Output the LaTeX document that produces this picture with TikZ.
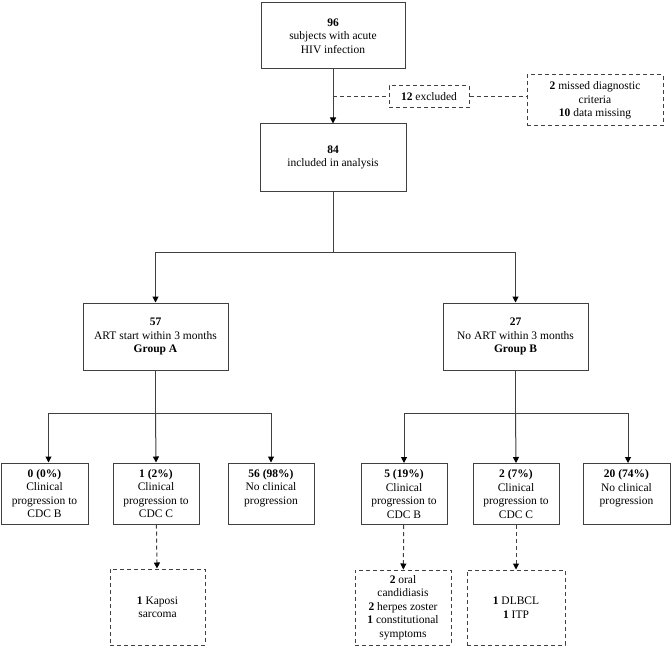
\documentclass[tikz,border=0pt]{standalone}
\usepackage{fontspec}
\setmainfont{Liberation Serif}
\usetikzlibrary{arrows.meta,positioning}

\begin{document}
\begin{tikzpicture}[x=1pt,y=-1pt,>={Triangle[length=6pt,width=6pt,color=black]},
 box/.style={draw=black!75,line width=1pt,align=center,inner sep=2pt,
 font=\fontsize{11.5}{13.4}\selectfont},
 dbox/.style={box,dash pattern=on 4pt off 3pt},
 wire/.style={draw=black!75,line width=1pt},
 dwire/.style={wire,dash pattern=on 4pt off 3pt}]
\useasboundingbox (0,0) rectangle (671,647);
\node[box,minimum width=144pt,minimum height=66pt] (subjects) at (333,36)
 {\textbf{96}\\subjects with acute\\HIV infection};
\node[dbox,minimum width=80pt,minimum height=22pt] (excluded) at (429,97)
 {\textbf{12} excluded};
\node[dbox,minimum width=136pt,minimum height=51pt] (reasons) at (595,100.5)
 {\textbf{2} missed diagnostic\\criteria\\\textbf{10} data missing};
\node[box,minimum width=146pt,minimum height=67pt] (included) at (333,157.5)
 {\textbf{84}\\included in analysis};
\node[box,minimum width=145pt,minimum height=67pt] (groupA) at (155.5,336.5)
 {\textbf{57}\\ART start within 3 months\\\textbf{Group A}};
\node[box,minimum width=145pt,minimum height=67pt] (groupB) at (515.5,336.5)
 {\textbf{27}\\No ART within 3 months\\\textbf{Group B}};
\node[box,minimum width=87pt,minimum height=61pt] (aB) at (44.5,493.5)
 {\textbf{0 (0\%)}\\Clinical\\progression to\\CDC B};
\node[box,minimum width=86pt,minimum height=61pt] (aC) at (156,493.5)
 {\textbf{1 (2\%)}\\Clinical\\progression to\\CDC C};
\node[box,minimum width=86pt,minimum height=61pt] (aNone) at (271,493.5)
 {\textbf{56 (98\%)}\\No clinical\\progression\\\mbox{}};
\node[box,minimum width=86pt,minimum height=61pt] (bB) at (404,494)
 {\textbf{5 (19\%)}\\Clinical\\progression to\\CDC B};
\node[box,minimum width=86pt,minimum height=61pt] (bC) at (516,494)
 {\textbf{2 (7\%)}\\Clinical\\progression to\\CDC C};
\node[box,minimum width=87pt,minimum height=61pt] (bNone) at (626.5,494)
 {\textbf{20 (74\%)}\\No clinical\\progression\\\mbox{}};
\node[dbox,minimum width=95pt,minimum height=76pt] (kaposi) at (157.5,607)
 {\textbf{1} Kaposi\\sarcoma};
\node[dbox,minimum width=96pt,minimum height=75pt] (events) at (403,607.5)
 {\textbf{2} oral\\candidiasis\\\textbf{2} herpes zoster\\\textbf{1} constitutional\\symptoms};
\node[dbox,minimum width=98pt,minimum height=75pt] (lymphoma) at (516,607.5)
 {\textbf{1} DLBCL\\\textbf{1} ITP};
\draw[wire,->] (subjects) -- (included);
\draw[dwire] (subjects.south |- excluded.west) -- (excluded.west);
\draw[dwire] (excluded.east) -- (excluded.east -| reasons.west);
\draw[wire] (included.south) -- ++(0,61) coordinate (split);
\draw[wire,->] (split) -| (groupA.north);
\draw[wire,->] (split) -| (groupB.north);
\draw[wire] (groupA.south) -- ++(0,43) coordinate (splitA);
\draw[wire,->] (splitA) -| ([xshift=4pt]aB.north);
\draw[wire,->] (splitA) -- (aC.north);
\draw[wire,->] (splitA) -| (aNone.north);
\draw[wire] (groupB.south) -- ++(0,43) coordinate (splitB);
\draw[wire,->] (splitB) -| (bB.north);
\draw[wire,->] (splitB) -- (bC.north);
\draw[wire,->] (splitB) -| ([xshift=1.5pt]bNone.north);
\draw[dwire,->] (aC) -- (kaposi);
\draw[dwire,->] (bB) -- (events);
\draw[dwire,->] (bC) -- (lymphoma);
\end{tikzpicture}
\end{document}
